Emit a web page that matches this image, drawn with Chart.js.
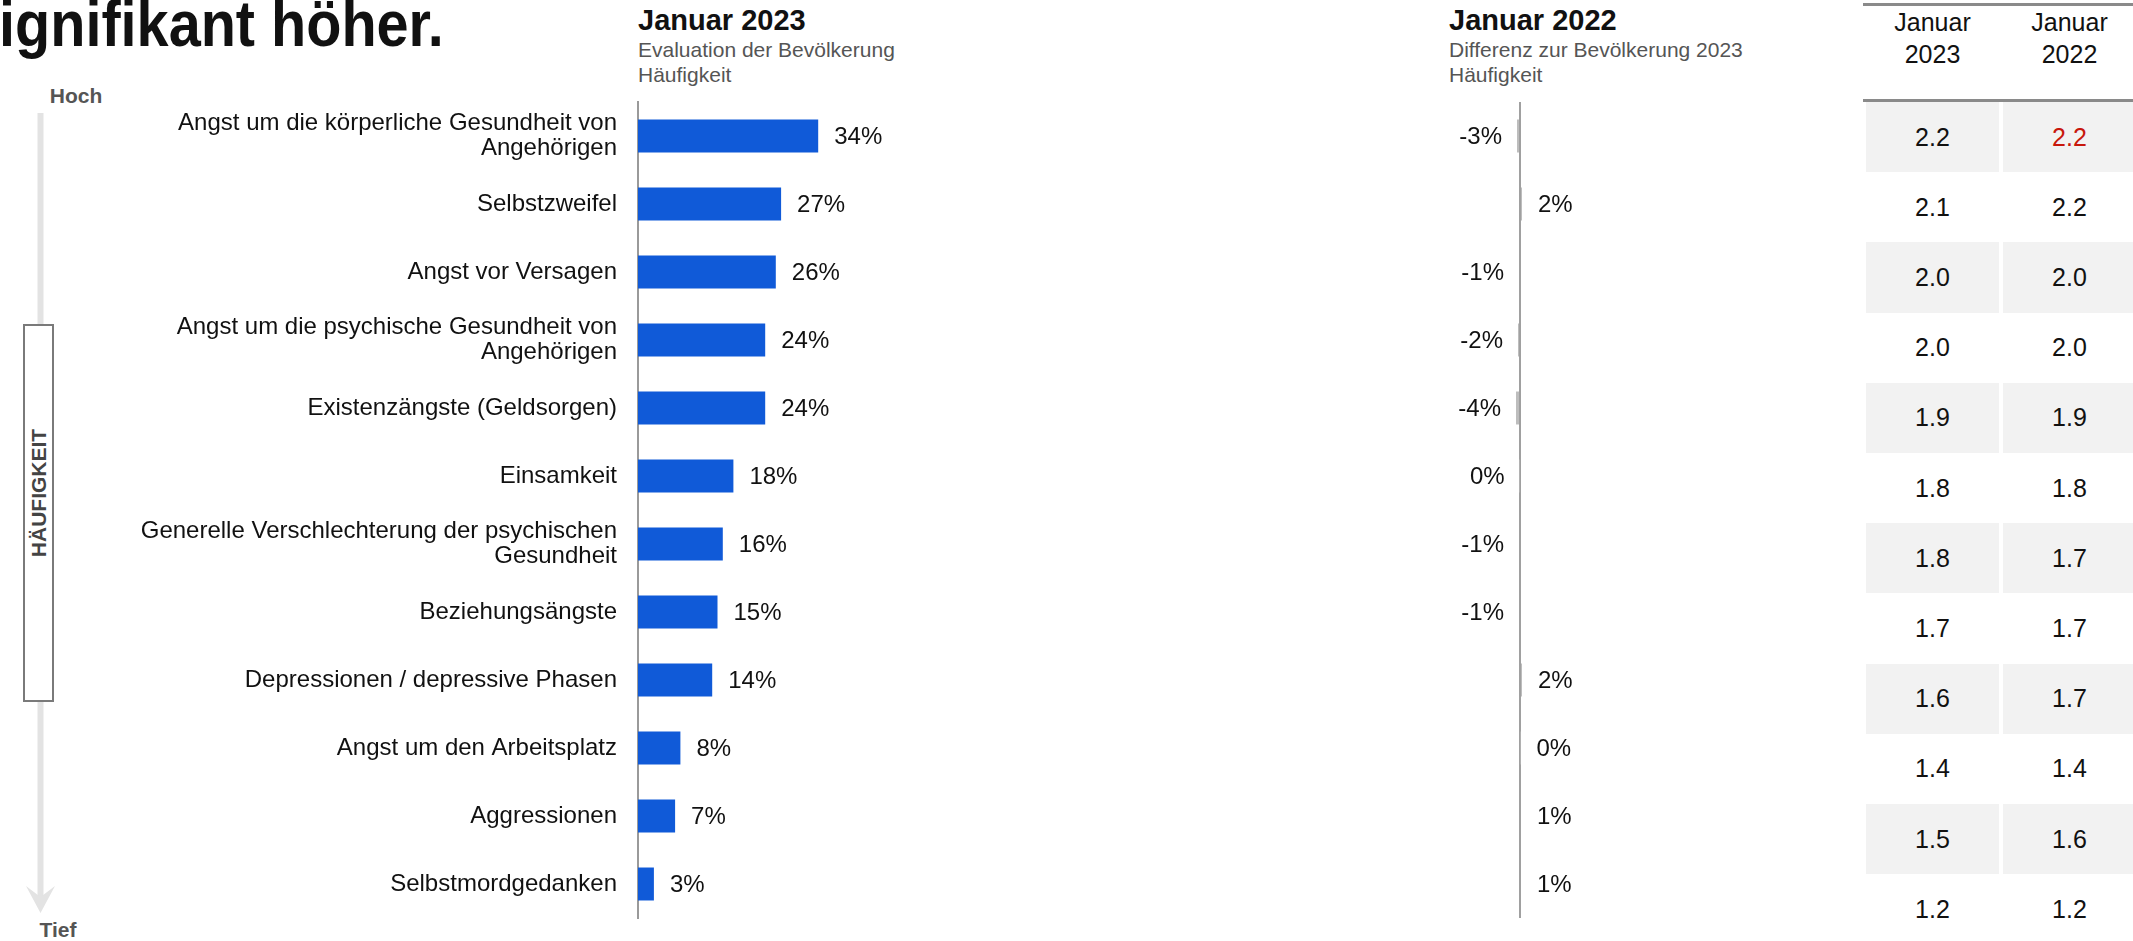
<!DOCTYPE html>
<html lang="de">
<head>
<meta charset="UTF-8">
<title>Sorgen und Ängste – Häufigkeit</title>
<script src="https://cdn.jsdelivr.net/npm/chart.js"></script>
<style>
    body {
        margin: 0;
        width: 2133px;
        height: 941px;
        overflow: hidden;
        position: relative;
        background: #fff;
        color: #111;
        font-family: "Liberation Sans", Arial, sans-serif;
    }
    .abs { position: absolute; white-space: nowrap; }
    #headline {
        left: -33px;
        top: -8px;
        font-size: 64px;
        font-weight: bold;
        line-height: 64px;
        transform: scaleX(0.9);
        transform-origin: left top;
    }
    .panel-title { font-size: 29px; font-weight: bold; line-height: 33px; }
    .panel-sub { font-size: 21px; line-height: 25px; color: #555; }
    .scale-word { font-size: 21px; font-weight: bold; color: #555; transform: translateX(-50%); }
    #axisBox {
        left: 23px; top: 324px; width: 27px; height: 374px;
        border: 2px solid #7a7a7a; background: #fff;
    }
    #axisBox span {
        position: absolute; left: 50%; top: 50%;
        transform: translate(-50%, -50%) translateY(-20px) rotate(-90deg);
        font-size: 21px; font-weight: bold; color: #444;
    }
    canvas { position: absolute; top: 0; }
    #mainChart { left: 0; }
    #diffChart { left: 1400px; }
    #table { left: 1862px; top: 0; width: 271px; height: 918px; overflow: hidden; }
    .rule { position: absolute; left: 1px; right: 0; height: 3px; background: #8a8a8a; }
    .head, .cell {
        position: absolute; width: 133px; text-align: center; font-size: 25px;
    }
    .head { top: 6px; line-height: 32px; }
    .cell { display: flex; align-items: center; justify-content: center; }
    .cell.shade { background: #f2f2f2; }
    .cell.flag { color: #c8170c; }
</style>
</head>
<body>
<div id="headline" class="abs">signifikant höher.</div>

<div class="abs panel-title" style="left:638px; top:4px;">Januar 2023</div>
<div class="abs panel-sub" style="left:638px; top:37px;">Evaluation der Bevölkerung<br>Häufigkeit</div>
<div class="abs panel-title" style="left:1449px; top:4px;">Januar 2022</div>
<div class="abs panel-sub" style="left:1449px; top:37px;">Differenz zur Bevölkerung 2023<br>Häufigkeit</div>

<svg class="abs" style="left:0; top:0;" width="80" height="941">
    <line x1="40.5" y1="113" x2="40.5" y2="900" stroke="#e3e3e3" stroke-width="6"/>
    <polygon points="26,886 40.5,913 55,886 40.5,897" fill="#e3e3e3"/>
</svg>
<div class="abs scale-word" style="left:76px; top:84px;">Hoch</div>
<div class="abs scale-word" style="left:58px; top:918px;">Tief</div>
<div id="axisBox" class="abs"><span>HÄUFIGKEIT</span></div>

<canvas id="mainChart" width="1400" height="941"></canvas>
<canvas id="diffChart" width="440" height="941"></canvas>
<div id="table" class="abs"></div>

<script>
    const categories = [
        ['Angst um die körperliche Gesundheit von', 'Angehörigen'],
        'Selbstzweifel',
        'Angst vor Versagen',
        ['Angst um die psychische Gesundheit von', 'Angehörigen'],
        'Existenzängste (Geldsorgen)',
        'Einsamkeit',
        ['Generelle Verschlechterung der psychischen', 'Gesundheit'],
        'Beziehungsängste',
        'Depressionen / depressive Phasen',
        'Angst um den Arbeitsplatz',
        'Aggressionen',
        'Selbstmordgedanken'
    ];
    // share of the population naming each worry, January 2023 (%)
    const share2023 = [34, 27, 26, 24, 24, 18, 16, 15, 14, 8, 7, 3];
    // difference of January 2022 against 2023 (percentage points)
    const diff2022 = [-3, 2, -1, -2, -4, -0.4, -1, -1, 2, 0.4, 1, 1];
    // mean frequency score per worry
    const mean2023 = [2.2, 2.1, 2.0, 2.0, 1.9, 1.8, 1.8, 1.7, 1.6, 1.4, 1.5, 1.2];
    const mean2022 = [2.2, 2.2, 2.0, 2.0, 1.9, 1.8, 1.7, 1.7, 1.7, 1.4, 1.6, 1.2];
    const tableHeads = [['Januar', '2023'], ['Januar', '2022']];
    const flagged2022 = [0];

    const FONT = '"Liberation Sans", Arial, sans-serif';

    // writes "xx%" next to the end of each bar
    const valueLabels = {
        id: 'valueLabels',
        afterDatasetsDraw(chart) {
            const ctx = chart.ctx;
            const values = chart.data.datasets[0].data;
            ctx.save();
            ctx.font = '24px ' + FONT;
            ctx.fillStyle = '#111';
            ctx.textBaseline = 'middle';
            chart.getDatasetMeta(0).data.forEach((bar, i) => {
                const v = values[i];
                const txt = Math.round(v) + '%';
                if (v < 0) {
                    ctx.textAlign = 'right';
                    ctx.fillText(txt, bar.x - 15, bar.y + 1);
                } else {
                    ctx.textAlign = 'left';
                    ctx.fillText(txt, bar.x + 16, bar.y + 1);
                }
            });
            ctx.restore();
        }
    };

    new Chart(document.getElementById('mainChart'), {
        type: 'bar',
        data: {
            labels: categories,
            datasets: [{
                data: share2023,
                backgroundColor: '#105ad8',
                barPercentage: 0.485,
                categoryPercentage: 1
            }]
        },
        options: {
            indexAxis: 'y',
            responsive: false,
            animation: false,
            layout: { padding: { top: 102, bottom: 23, left: 0, right: 232 } },
            plugins: { legend: { display: false }, tooltip: { enabled: false } },
            scales: {
                x: { display: false, min: 0, max: 100 },
                y: {
                    grid: { display: false, drawTicks: false },
                    border: { display: true, color: '#9a9a9a', width: 2 },
                    ticks: {
                        color: '#111',
                        padding: 21,
                        autoSkip: false,
                        font: { family: FONT, size: 24, lineHeight: 1.05 }
                    },
                    afterFit(scale) {
                        // fixed label column, no extra room for the two-line labels
                        scale.width = 638;
                        scale.paddingTop = 0;
                        scale.paddingBottom = 0;
                    }
                }
            }
        },
        plugins: [valueLabels]
    });

    new Chart(document.getElementById('diffChart'), {
        type: 'bar',
        data: {
            labels: categories,
            datasets: [{
                data: diff2022,
                backgroundColor: '#bdbdbd',
                barPercentage: 0.485,
                categoryPercentage: 1
            }]
        },
        options: {
            indexAxis: 'y',
            responsive: false,
            animation: false,
            layout: { padding: { top: 102, bottom: 23, left: 0, right: 0 } },
            plugins: { legend: { display: false }, tooltip: { enabled: false } },
            scales: {
                x: {
                    min: -120,
                    max: 320,
                    ticks: { display: false },
                    border: { display: false },
                    grid: {
                        drawTicks: false,
                        lineWidth: 2,
                        color: c => c.tick && c.tick.value === 0 ? '#a0a0a0' : 'rgba(0,0,0,0)'
                    },
                    afterBuildTicks(scale) { scale.ticks = [{ value: 0 }]; },
                    afterFit(scale) { scale.height = 0; }
                },
                y: { display: false }
            }
        },
        plugins: [valueLabels]
    });

    // score table on the right
    const table = document.getElementById('table');
    const colLeft = [4, 141];
    const rowTop = 102, rowH = 70.2;
    let html = '<div class="rule" style="top:3px"></div><div class="rule" style="top:99px"></div>';
    tableHeads.forEach((h, c) => {
        html += `<div class="head" style="left:${colLeft[c]}px">${h.join('<br>')}</div>`;
    });
    [mean2023, mean2022].forEach((col, c) => {
        col.forEach((v, r) => {
            const cls = ['cell'];
            if (r % 2 === 0) cls.push('shade');
            if (c === 1 && flagged2022.includes(r)) cls.push('flag');
            html += `<div class="${cls.join(' ')}" style="left:${colLeft[c]}px; top:${rowTop + r * rowH}px; height:${rowH}px">${v.toFixed(1)}</div>`;
        });
    });
    table.innerHTML = html;
</script>
</body>
</html>
